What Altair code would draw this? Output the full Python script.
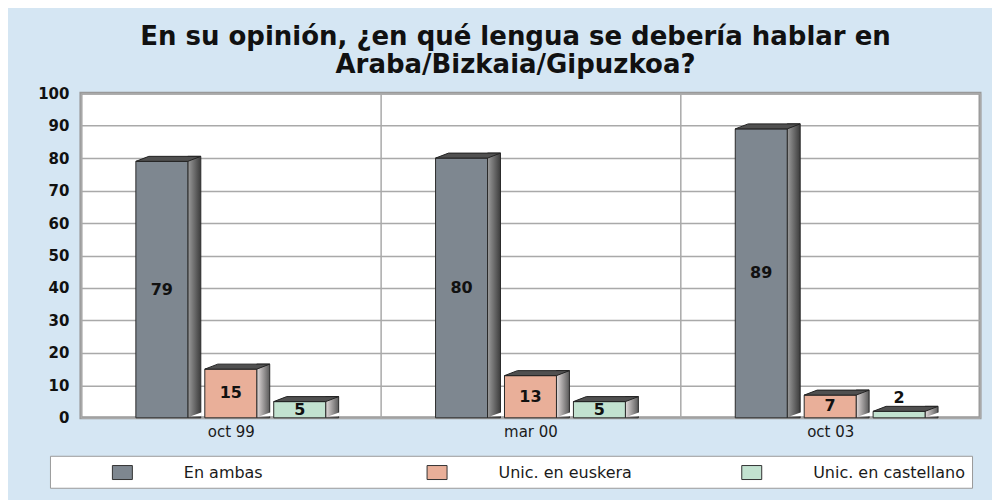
import altair as alt
import pandas as pd

# ---- data ----
categories = ["oct 99", "mar 00", "oct 03"]
series = ["En ambas", "Unic. en euskera", "Unic. en castellano"]
en_ambas = [79, 80, 89]
unic_euskera = [15, 13, 7]
unic_castellano = [5, 5, 2]
y_ticks = [0, 10, 20, 30, 40, 50, 60, 70, 80, 90, 100]
front_colors = ["#7e8790", "#e9af99", "#c2e2d0"]
title_lines = ["En su opinión, ¿en qué lengua se debería hablar en", "Araba/Bizkaia/Gipuzkoa?"]

rows = []
for i, cat in enumerate(categories):
    for s, vals in zip(series, [en_ambas, unic_euskera, unic_castellano]):
        rows.append({"cat": cat, "serie": s, "v": vals[i]})
df = pd.DataFrame(rows)

BOLD = "DejaVu Sans"
REG = "DejaVu Sans"

x_enc = alt.X(
    "cat:N", sort=categories,
    scale=alt.Scale(paddingInner=0, paddingOuter=0),
    axis=alt.Axis(title=None, labelAngle=0, tickBand="extent", grid=True, ticks=False,
                  domain=False, labelFont=REG, labelFontSize=15, labelColor="#1a1a1a",
                  labelPadding=7, gridColor="#a9a9a9", gridWidth=1.5),
)
PI, PO = 0.2464, 0.797
xo_enc = alt.XOffset("serie:N", sort=series,
                     scale=alt.Scale(type="band", domain=series, paddingInner=PI, paddingOuter=PO))
# side faces: same bands, shifted right by the 3D depth
xo_side = alt.XOffset("serie:N", sort=series,
                      scale=alt.Scale(type="band", domain=series, paddingInner=PI, paddingOuter=PO,
                                      range=[32.5, 332.5]))
y_axis = alt.Axis(title=None, values=y_ticks, grid=True, ticks=False, domain=False,
                  labelFont=BOLD, labelFontWeight="bold", labelFontSize=15,
                  labelColor="#111", labelPadding=12, minExtent=40, maxExtent=40,
                  gridColor="#a9a9a9", gridWidth=1.5)
y_scale = alt.Scale(domain=[0, 100], nice=False)
y_enc = alt.Y("v:Q", scale=y_scale, axis=y_axis)

base = alt.Chart(df)

grad_dark = alt.Gradient(gradient="linear", x1=0, x2=1, y1=0, y2=0,
                         stops=[alt.GradientStop(color="#9c9c9c", offset=0),
                                alt.GradientStop(color="#3c3c3c", offset=1)])
grad_light = alt.Gradient(gradient="linear", x1=0, x2=1, y1=0, y2=0,
                          stops=[alt.GradientStop(color="#e2dcdc", offset=0),
                                 alt.GradientStop(color="#5a5a5a", offset=1)])

side_dark = base.transform_filter(alt.datum.serie == series[0]).mark_bar(
    width=13, yOffset=-5, fill=grad_dark, stroke="#2a2a2a", strokeWidth=1
).encode(x=x_enc, xOffset=xo_side, y=y_enc, y2=alt.Y2(datum=0))

side_light = base.transform_filter(alt.datum.serie != series[0]).mark_bar(
    width=13, yOffset=-5, fill=grad_light, stroke="#2a2a2a", strokeWidth=1
).encode(x=x_enc, xOffset=xo_side, y=y_enc, y2=alt.Y2(datum=0))

front = base.mark_bar(stroke="#2a2a2a", strokeWidth=1, opacity=1).encode(
    x=x_enc, xOffset=xo_enc, y=y_enc,
    color=alt.Color(
        "serie:N", sort=series,
        scale=alt.Scale(domain=series, range=front_colors),
        legend=alt.Legend(
            orient="none", legendX=-31, legendY=363, direction="horizontal",
            columns=3, gridAlign="all", title=None,
            fillColor="white", strokeColor="#9a9a9a", padding=6,
            symbolType="M -1 -0.7 L 1 -0.7 L 1 0.7 L -1 0.7 Z", symbolSize=400,
            symbolStrokeColor="#333", symbolStrokeWidth=1, symbolOpacity=1,
            symbolOffset=56, labelOffset=51, columnPadding=34,
            labelFont=REG, labelFontSize=16, labelColor="#1a1a1a",
        ),
    ),
)

top_face = base.mark_point(
    shape="M -26 0 L -13 -5 L 39 -5 L 26 0 Z", size=4, filled=True,
    fill="#505050", stroke="#222", strokeWidth=1, opacity=1,
).encode(x=x_enc, xOffset=xo_enc, y=y_enc)

corner_cut = base.mark_point(
    shape="M 29 -1.6 L 40 -5.6 L 40 -1.6 Z", size=4, filled=True,
    fill="white", strokeWidth=0, opacity=1,
).encode(x=x_enc, xOffset=xo_enc, y=alt.Y(datum=0, scale=y_scale, axis=y_axis))

labels = base.transform_calculate(
    ly="datum.v >= 4 ? datum.v / 2 : datum.v + 4"
).mark_text(font=BOLD, fontWeight="bold", fontSize=16, color="#111", baseline="middle").encode(
    x=x_enc, xOffset=xo_enc,
    y=alt.Y("ly:Q", scale=y_scale, axis=y_axis),
    text="v:Q",
)

chart = alt.layer(side_dark, side_light, front, top_face, corner_cut, labels).resolve_scale(
    xOffset="independent"
).properties(
    width=900, height=325,
    title=alt.Title(title_lines, font=BOLD, fontWeight="bold", fontSize=26, lineHeight=28,
                    color="#111", anchor="middle", dx=-15, offset=8),
    padding={"left": 29, "top": 16, "right": 12, "bottom": 11},
    background="#d5e6f3",
).configure_view(
    fill="white", stroke="#999999", strokeWidth=3,
)

chart.save("out.html", embed_options={"renderer": "svg", "actions": False})
